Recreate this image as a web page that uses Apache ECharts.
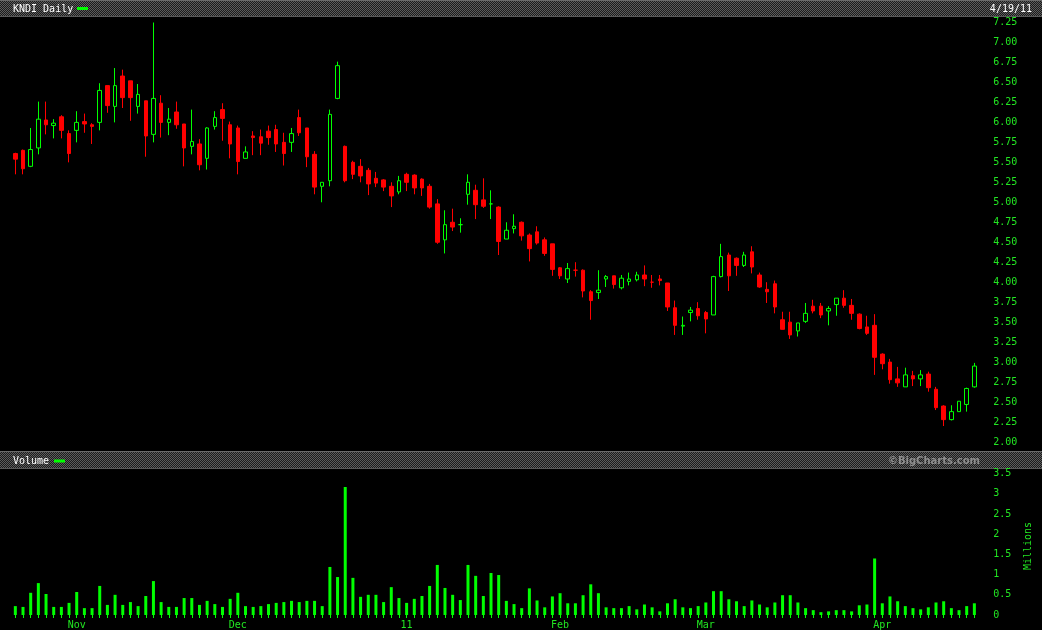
<!DOCTYPE html>
<html><head><meta charset="utf-8">
<script src="https://cdn.jsdelivr.net/npm/echarts@6/dist/echarts.min.js"></script>
<style>html,body{margin:0;padding:0;background:#000;}#c{width:1042px;height:630px;}</style>
</head><body><div id="c"></div>
<script>
// ---- data ----
const dates = [
'10/20/10','10/21/10','10/22/10','10/25/10','10/26/10','10/27/10','10/28/10','10/29/10',
'11/1/10','11/2/10','11/3/10','11/4/10','11/5/10','11/8/10','11/9/10','11/10/10','11/11/10','11/12/10',
'11/15/10','11/16/10','11/17/10','11/18/10','11/19/10','11/22/10','11/23/10','11/24/10','11/26/10','11/29/10','11/30/10',
'12/1/10','12/2/10','12/3/10','12/6/10','12/7/10','12/8/10','12/9/10','12/10/10','12/13/10','12/14/10','12/15/10',
'12/16/10','12/17/10','12/20/10','12/21/10','12/22/10','12/23/10','12/27/10','12/28/10','12/29/10','12/30/10','12/31/10',
'1/3/11','1/4/11','1/5/11','1/6/11','1/7/11','1/10/11','1/11/11','1/12/11','1/13/11','1/14/11',
'1/18/11','1/19/11','1/20/11','1/21/11','1/24/11','1/25/11','1/26/11','1/27/11','1/28/11','1/31/11',
'2/1/11','2/2/11','2/3/11','2/4/11','2/7/11','2/8/11','2/9/11','2/10/11','2/11/11','2/14/11',
'2/15/11','2/16/11','2/17/11','2/18/11','2/22/11','2/23/11','2/24/11','2/25/11','2/28/11',
'3/1/11','3/2/11','3/3/11','3/4/11','3/7/11','3/8/11','3/9/11','3/10/11','3/11/11','3/14/11',
'3/15/11','3/16/11','3/17/11','3/18/11','3/21/11','3/22/11','3/23/11','3/24/11','3/25/11','3/28/11','3/29/11','3/30/11','3/31/11',
'4/1/11','4/4/11','4/5/11','4/6/11','4/7/11','4/8/11','4/11/11','4/12/11','4/13/11','4/14/11','4/15/11','4/18/11','4/19/11'
];
const opens = [
5.61,5.65,5.45,5.68,6.03,5.96,6.07,5.86,5.90,6.01,5.97,6.00,6.46,6.20,6.58,6.52,6.20,6.27,5.85,6.24,
6.00,6.13,5.98,5.70,5.73,5.55,5.95,6.16,5.97,5.93,5.55,5.83,5.82,5.89,5.91,5.75,5.75,6.06,5.93,5.60,
5.20,5.27,6.30,5.70,5.50,5.45,5.40,5.30,5.28,5.20,5.13,5.35,5.34,5.29,5.20,4.98,4.53,4.75,4.72,5.10,
5.15,5.03,4.98,4.94,4.54,4.67,4.75,4.59,4.63,4.53,4.48,4.18,4.04,4.15,4.15,3.88,3.87,4.04,4.08,3.93,
4.01,4.03,4.09,4.00,4.04,3.99,3.68,3.45,3.62,3.67,3.62,3.59,4.07,4.34,4.30,4.21,4.38,4.09,3.91,3.98,
3.53,3.50,3.39,3.51,3.70,3.70,3.64,3.72,3.80,3.71,3.60,3.44,3.46,3.10,3.00,2.79,2.69,2.83,2.79,2.85,
2.66,2.45,2.28,2.38,2.47,2.69
];
const highs = [
5.62,5.66,5.93,6.26,6.26,6.04,6.09,5.90,6.14,6.11,5.99,6.49,6.46,6.68,6.66,6.52,6.48,6.27,7.25,6.34,
6.18,6.26,5.98,6.16,5.79,5.94,6.14,6.24,6.01,5.96,5.70,5.89,5.91,5.96,5.97,5.87,5.93,6.16,5.93,5.64,
5.25,6.16,6.76,5.71,5.52,5.54,5.43,5.38,5.29,5.25,5.33,5.37,5.35,5.30,5.23,5.04,4.90,4.92,4.80,5.35,
5.22,5.30,5.15,4.95,4.75,4.85,4.76,4.61,4.70,4.56,4.48,4.19,4.24,4.25,4.16,3.90,4.15,4.09,4.08,4.09,
4.12,4.13,4.21,4.09,4.09,3.99,3.77,3.57,3.69,3.75,3.64,4.08,4.48,4.37,4.31,4.38,4.45,4.12,4.00,4.02,
3.63,3.63,3.49,3.74,3.78,3.74,3.70,3.80,3.90,3.79,3.61,3.58,3.60,3.11,3.04,2.94,2.93,2.89,2.90,2.88,
2.69,2.46,2.46,2.51,2.68,2.99
];
const lows = [
5.35,5.35,5.44,5.60,5.85,5.80,5.80,5.50,5.75,5.87,5.73,5.90,6.12,6.00,6.18,6.02,6.11,5.57,5.75,5.81,
5.84,5.92,5.45,5.60,5.40,5.41,5.91,5.77,5.55,5.35,5.55,5.59,5.59,5.72,5.63,5.46,5.63,5.83,5.44,5.10,
5.00,5.20,6.29,5.25,5.29,5.25,5.09,5.19,5.14,4.94,5.10,5.14,5.10,5.08,4.92,4.48,4.36,4.64,4.62,4.97,
4.79,4.93,4.79,4.34,4.54,4.61,4.52,4.26,4.47,4.33,4.08,4.04,3.99,4.07,3.81,3.53,3.79,3.94,3.92,3.91,
3.96,4.01,3.95,3.93,3.96,3.64,3.34,3.34,3.51,3.53,3.36,3.59,4.06,3.89,4.08,4.19,4.11,3.93,3.74,3.61,
3.41,3.29,3.32,3.49,3.61,3.55,3.46,3.58,3.68,3.53,3.41,3.34,2.84,2.91,2.73,2.69,2.69,2.70,2.70,2.63,
2.40,2.20,2.27,2.38,2.38,2.68
];
const closes = [
5.54,5.42,5.66,6.04,5.97,5.99,5.90,5.61,6.00,5.98,5.95,6.40,6.21,6.46,6.31,6.31,6.35,5.83,6.30,6.00,
6.04,5.97,5.68,5.76,5.47,5.93,6.06,6.05,5.73,5.51,5.63,5.81,5.74,5.81,5.73,5.61,5.86,5.87,5.57,5.19,
5.25,6.10,6.71,5.27,5.35,5.33,5.23,5.24,5.19,5.08,5.27,5.25,5.18,5.18,4.94,4.50,4.72,4.69,4.72,5.25,
4.97,4.95,4.98,4.51,4.65,4.70,4.58,4.42,4.49,4.36,4.16,4.08,4.17,4.15,3.89,3.77,3.90,4.07,3.97,4.05,
4.04,4.09,4.04,4.00,4.02,3.69,3.46,3.46,3.65,3.58,3.54,4.07,4.32,4.08,4.21,4.34,4.19,3.94,3.88,3.69,
3.41,3.34,3.49,3.61,3.64,3.59,3.67,3.80,3.71,3.61,3.42,3.36,3.06,2.98,2.78,2.74,2.84,2.79,2.84,2.68,
2.43,2.28,2.38,2.51,2.67,2.95
];
const volumes = [ // millions
0.22,0.20,0.55,0.79,0.52,0.20,0.20,0.30,0.57,0.17,
0.17,0.72,0.25,0.50,0.25,0.32,0.22,0.47,0.84,0.32,
0.20,0.20,0.42,0.42,0.25,0.35,0.27,0.20,0.40,0.55,
0.22,0.20,0.22,0.27,0.30,0.32,0.35,0.32,0.35,0.35,
0.22,1.19,0.94,3.17,0.92,0.45,0.50,0.50,0.32,0.69,
0.42,0.30,0.40,0.47,0.72,1.24,0.67,0.50,0.37,1.24,
0.97,0.47,1.04,0.99,0.35,0.27,0.17,0.66,0.36,0.19,
0.46,0.54,0.29,0.29,0.49,0.76,0.54,0.19,0.17,0.17,
0.22,0.14,0.26,0.19,0.09,0.29,0.39,0.19,0.17,0.22,
0.31,0.59,0.59,0.39,0.34,0.22,0.36,0.26,0.19,0.31,
0.49,0.49,0.31,0.17,0.12,0.07,0.09,0.12,0.12,0.09,
0.24,0.26,1.40,0.29,0.46,0.34,0.22,0.17,0.14,0.19,
0.31,0.34,0.17,0.12,0.22,0.29
];
const monthStarts = ['11/1/10','12/1/10','1/3/11','2/1/11','3/1/11','4/1/11'];
const monthLabels = ['Nov','Dec','11','Feb','Mar','Apr'];
const priceMin = 2, priceMax = 7.25, priceStep = 0.25;
const volMin = 0, volMax = 3.5, volStep = 0.5;
const title = 'KNDI Daily';
const lastDate = '4/19/11';

// ---- chart ----
const GREEN = '#00ff00', RED = '#ff0000', TXT = '#22e622';
const MONO = 'DejaVu Sans Mono';
const pat = document.createElement('canvas');
pat.width = 2; pat.height = 2;
(function(){const g = pat.getContext('2d');
  g.fillStyle = '#1c1c1c'; g.fillRect(0,0,2,2);
  g.fillStyle = '#5c5c5c'; g.fillRect(0,0,1,1); g.fillRect(1,1,1,1);})();

const candleData = dates.map((d, i) => [opens[i], closes[i], lows[i], highs[i]]);
const chart = echarts.init(document.getElementById('c'), null, {renderer: 'canvas'});
const L = 11.5, W = 966.7;
chart.setOption({
  backgroundColor: '#000',
  animation: false,
  grid: [
    {left: L, top: 22.5, width: W, height: 419.5},
    {left: L, top: 473.7, width: W, height: 141.3}
  ],
  xAxis: [
    {type: 'category', gridIndex: 0, data: dates, boundaryGap: true,
     axisLine: {show: false}, axisTick: {show: false}, axisLabel: {show: false}, splitLine: {show: false}},
    {type: 'category', gridIndex: 1, data: dates, boundaryGap: true, offset: 1,
     axisLine: {show: false},
     axisTick: {show: true, interval: 0, alignWithLabel: true, length: 3, lineStyle: {color: GREEN, width: 1}},
     axisLabel: {show: true, margin: 4, color: TXT, fontFamily: MONO, fontSize: 10,
       interval: (idx, val) => monthStarts.indexOf(val) >= 0,
       formatter: (val) => { const k = monthStarts.indexOf(val); return k >= 0 ? monthLabels[k] : ''; }},
     splitLine: {show: false}}
  ],
  yAxis: [
    {type: 'value', gridIndex: 0, position: 'right', min: priceMin, max: priceMax, interval: priceStep,
     axisLine: {show: false}, axisTick: {show: false}, splitLine: {show: false},
     axisLabel: {margin: 15, color: TXT, fontFamily: MONO, fontSize: 10, formatter: v => v.toFixed(2)}},
    {type: 'value', gridIndex: 1, position: 'right', min: volMin, max: volMax, interval: volStep,
     axisLine: {show: false}, axisTick: {show: false}, splitLine: {show: false},
     axisLabel: {margin: 15, color: TXT, fontFamily: MONO, fontSize: 10, formatter: v => String(v)}}
  ],
  series: [
    {type: 'candlestick', xAxisIndex: 0, yAxisIndex: 0, data: candleData, barWidth: 4,
     itemStyle: {color: '#000000', color0: RED, borderColor: GREEN, borderColor0: RED, borderWidth: 1}},
    {type: 'bar', xAxisIndex: 1, yAxisIndex: 1, data: volumes, barWidth: 3,
     itemStyle: {color: GREEN}}
  ],
  graphic: [
    {type: 'rect', shape: {x: 0, y: 0, width: 1042, height: 16}, style: {fill: {image: pat, repeat: 'repeat'}}, silent: true},
    {type: 'rect', shape: {x: 0, y: 0, width: 1042, height: 1}, style: {fill: '#6a6a6a'}, silent: true},
    {type: 'rect', shape: {x: 0, y: 16, width: 1042, height: 1}, style: {fill: '#5a5a5a'}, silent: true},
    {type: 'text', x: 13, y: 9, style: {text: title, fill: '#ffffff', font: '10px ' + MONO, textAlign: 'left', textVerticalAlign: 'middle', align: 'left', verticalAlign: 'middle'}},
    {type: 'rect', shape: {x: 77, y: 7, width: 11, height: 3}, style: {fill: GREEN}},
    {type: 'text', x: 1032, y: 9, style: {text: lastDate, fill: '#ffffff', font: '10px ' + MONO, textAlign: 'right', textVerticalAlign: 'middle', align: 'right', verticalAlign: 'middle'}},

    {type: 'rect', shape: {x: 0, y: 451, width: 1042, height: 17}, style: {fill: {image: pat, repeat: 'repeat'}}, silent: true},
    {type: 'rect', shape: {x: 0, y: 451, width: 1042, height: 1}, style: {fill: '#6a6a6a'}, silent: true},
    {type: 'rect', shape: {x: 0, y: 468, width: 1042, height: 1}, style: {fill: '#5a5a5a'}, silent: true},
    {type: 'text', x: 13, y: 461, style: {text: 'Volume', fill: '#ffffff', font: '10px ' + MONO, textAlign: 'left', textVerticalAlign: 'middle', align: 'left', verticalAlign: 'middle'}},
    {type: 'rect', shape: {x: 54, y: 459.5, width: 11, height: 3}, style: {fill: GREEN}},
    {type: 'text', x: 980, y: 461, style: {text: '\u00a9BigCharts.com', fill: '#8e8e8e', font: 'bold 10px DejaVu Sans', textAlign: 'right', textVerticalAlign: 'middle', align: 'right', verticalAlign: 'middle'}},
    {type: 'text', x: 1028, y: 546, rotation: Math.PI / 2, style: {text: 'Millions', fill: TXT, font: '10px ' + MONO, textAlign: 'center', textVerticalAlign: 'middle', align: 'center', verticalAlign: 'middle'}}
  ]
});
</script></body></html>
